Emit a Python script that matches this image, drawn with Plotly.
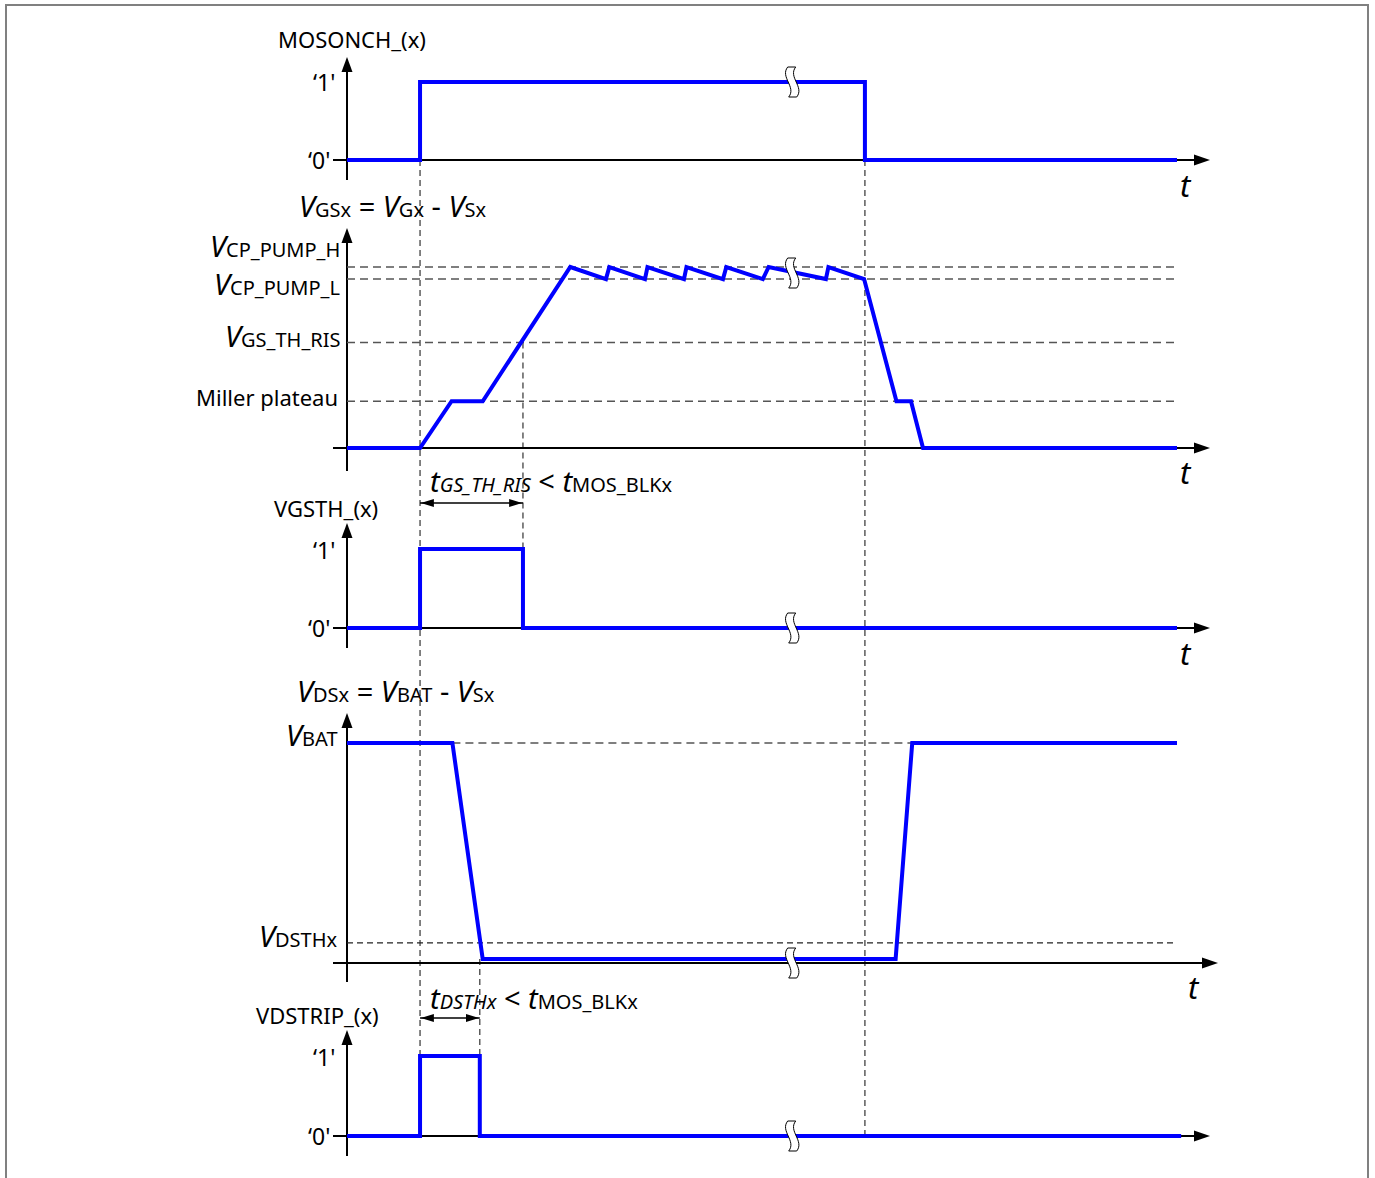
import plotly.graph_objects as go

# ---------------- data ----------------
# time in arbitrary units: 0 = origin of the time axes, 100 = end of the traces
T_ON = 8.8        # MOSONCH rising edge
T_OFF = 62.4      # MOSONCH falling edge
T_GS_TH = 21.2    # V_GS crosses V_GS_TH_RIS
T_DSTH = 16.0     # V_DS drops below V_DSTHx
T_BREAK = 53.7    # time-axis break marker

# gate-source levels (arbitrary volts)
VCP_PUMP_H = 12.0
VCP_PUMP_L = 11.2
VGS_TH_RIS = 7.0
MILLER = 3.1

# drain-source levels
VBAT = 12.0
VDSTHX = 1.1
VDS_ON = 0.22

t_mosonch = [0, 8.8, 8.8, 62.4, 62.4, 100]
mosonch = [0, 0, 1, 1, 0, 0]

t_vgs = [0, 8.8, 12.6, 16.35, 26.9, 31.2, 31.6, 35.9, 36.2, 40.6, 40.9,
         45.3, 45.7, 50.1, 50.8, 57.7, 58.0, 62.3, 66.2, 67.95, 69.4, 100]
vgs = [0, 0, MILLER, MILLER, VCP_PUMP_H,
       VCP_PUMP_L, VCP_PUMP_H, VCP_PUMP_L, VCP_PUMP_H, VCP_PUMP_L, VCP_PUMP_H,
       VCP_PUMP_L, VCP_PUMP_H, VCP_PUMP_L, VCP_PUMP_H, VCP_PUMP_L, VCP_PUMP_H,
       VCP_PUMP_L, MILLER, MILLER, 0, 0]

t_vgsth = [0, 8.8, 8.8, 21.2, 21.2, 100]
vgsth = [0, 0, 1, 1, 0, 0]

t_vds = [0, 12.7, 16.35, 66.1, 68.1, 100]
vds = [VBAT, VBAT, VDS_ON, VDS_ON, VBAT, VBAT]

t_vdstrip = [0, 8.8, 8.8, 16.0, 16.0, 100.5]
vdstrip = [0, 0, 1, 1, 0, 0]

# ---------------- layout geometry ----------------
W, H = 1375, 1178
X0_PX = 347.0
PX_PER_T = 8.3
FONT = "Noto Sans"
BLUE = "#0000ff"

# baseline pixel, pixels per unit, arrow tip pixel, axis bottom pixel, horizontal arrow tip pixel
P = [
    dict(base=160, k=78.0, tip=57, vbot=180, htip=1210),
    dict(base=448, k=181 / 12.0, tip=228, vbot=471, htip=1210),
    dict(base=628, k=79.0, tip=523, vbot=648, htip=1210),
    dict(base=963, k=220 / 12.0, tip=713, vbot=982, htip=1218),
    dict(base=1136, k=80.0, tip=1030, vbot=1156, htip=1210),
]
YREF = ["y", "y2", "y3", "y4", "y5"]


def ypx(i, level):
    return P[i]["base"] - level * P[i]["k"]


def ylev(i, px):
    return (P[i]["base"] - px) / P[i]["k"]


def pyp(px):
    return 1 - px / H


def pxp(px):
    return px / W


def tpx(px):
    return (px - X0_PX) / PX_PER_T


fig = go.Figure()

series = [(t_mosonch, mosonch), (t_vgs, vgs), (t_vgsth, vgsth), (t_vds, vds), (t_vdstrip, vdstrip)]
for i, (tx, ty) in enumerate(series):
    fig.add_trace(go.Scatter(x=tx, y=ty, mode="lines", xaxis="x", yaxis=YREF[i],
                             line=dict(color=BLUE, width=4), hoverinfo="skip", showlegend=False))

layout = dict(
    width=W, height=H, margin=dict(l=0, r=0, t=0, b=0),
    paper_bgcolor="white", plot_bgcolor="rgba(0,0,0,0)", showlegend=False,
    xaxis=dict(domain=[0, 1], range=[tpx(0), tpx(W)], visible=False, fixedrange=True),
)
for i in range(5):
    key = "yaxis" if i == 0 else "yaxis%d" % (i + 1)
    lo, hi = P[i]["vbot"] + 12, P[i]["tip"] - 12
    layout[key] = dict(domain=[pyp(lo), pyp(hi)], range=[ylev(i, lo), ylev(i, hi)],
                       visible=False, anchor="x", fixedrange=True)
fig.update_layout(**layout)

shapes = []
UP = "M0,0 L-5.5,-15 L5.5,-15 Z"
RIGHT = "M0,0 L-16,5.5 L-16,-5.5 Z"
BREAK = "M-5,15 C-13,5 4,-5 -4,-15 L4,-15 C12,-5 -5,5 3,15 Z"

for i in range(5):
    p = P[i]
    yr = YREF[i]
    shapes.append(dict(type="line", xref="x", yref=yr, x0=0, x1=0,
                       y0=ylev(i, p["vbot"]), y1=ylev(i, p["tip"] + 8),
                       line=dict(color="black", width=2), layer="below"))
    shapes.append(dict(type="line", xref="x", yref=yr, x0=tpx(333), x1=tpx(p["htip"] - 8),
                       y0=0, y1=0, line=dict(color="black", width=2), layer="below"))
    shapes.append(dict(type="path", xref="x", yref=yr, xsizemode="pixel", ysizemode="pixel",
                       xanchor=0, yanchor=ylev(i, p["tip"]), path=UP,
                       fillcolor="black", line=dict(width=0)))
    shapes.append(dict(type="path", xref="x", yref=yr, xsizemode="pixel", ysizemode="pixel",
                       xanchor=tpx(p["htip"]), yanchor=0, path=RIGHT,
                       fillcolor="black", line=dict(width=0)))

# level reference lines of V_GSx
for lev in [VCP_PUMP_H, VCP_PUMP_L, VGS_TH_RIS, MILLER]:
    shapes.append(dict(type="line", xref="x", yref="y2", x0=0, x1=100, y0=lev, y1=lev,
                       line=dict(color="#555555", width=1.5, dash="8px,5px"), layer="below"))
# V_DS reference lines
shapes.append(dict(type="line", xref="x", yref="y4", x0=t_vds[1], x1=t_vds[4], y0=VBAT, y1=VBAT,
                   line=dict(color="#555555", width=1.5, dash="8px,5px"), layer="below"))
shapes.append(dict(type="line", xref="x", yref="y4", x0=0, x1=100, y0=VDSTHX, y1=VDSTHX,
                   line=dict(color="#222222", width=1.2, dash="6px,4px"), layer="below"))

# vertical timing guides
VD = dict(color="#333333", width=1.2, dash="6px,4px")
guides = [
    (T_ON, ypx(0, 0), ypx(4, 1)),
    (T_OFF, ypx(0, 0), ypx(4, 0)),
    (T_GS_TH, ypx(1, VGS_TH_RIS), ypx(2, 1)),
    (T_DSTH, ypx(3, VDS_ON), ypx(4, 1)),
]
for tx, a, b in guides:
    shapes.append(dict(type="line", xref="x", yref="paper", x0=tx, x1=tx, y0=pyp(a), y1=pyp(b),
                       line=VD, layer="below"))

# dimension arrows
for t_end, ydim in [(T_GS_TH, 503), (T_DSTH, 1018)]:
    shapes.append(dict(type="line", xref="x", yref="paper", x0=T_ON, x1=t_end,
                       y0=pyp(ydim), y1=pyp(ydim), line=dict(color="black", width=1.3)))
    shapes.append(dict(type="path", xref="x", yref="paper", xsizemode="pixel", ysizemode="pixel",
                       xanchor=T_ON + 0.1, yanchor=pyp(ydim), path="M0,0 L13,4 L13,-4 Z",
                       fillcolor="black", line=dict(width=0)))
    shapes.append(dict(type="path", xref="x", yref="paper", xsizemode="pixel", ysizemode="pixel",
                       xanchor=t_end - 0.1, yanchor=pyp(ydim), path="M0,0 L-13,4 L-13,-4 Z",
                       fillcolor="black", line=dict(width=0)))

# axis break markers
breaks = [(0, 1.0), (1, ylev(1, 273)), (2, 0.0), (3, 0.0), (4, 0.0)]
for i, lev in breaks:
    shapes.append(dict(type="path", xref="x", yref=YREF[i], xsizemode="pixel", ysizemode="pixel",
                       xanchor=T_BREAK, yanchor=lev, path=BREAK,
                       fillcolor="white", line=dict(color="black", width=1)))

# frame
shapes.append(dict(type="rect", xref="paper", yref="paper", x0=pxp(6), x1=pxp(1368),
                   y0=pyp(1200), y1=pyp(5), line=dict(color="#808080", width=2)))

fig.update_layout(shapes=shapes)

SUB = "<span style='font-size:20px'>%s</span>"
SUBI = "<span style='font-size:20px'><i>%s</i></span>"


def V(sub):
    return "<i>V</i>" + SUB % sub


anns = []


def ann(text, x, y, xanchor="left", size=22):
    anns.append(dict(text=text, x=pxp(x), y=pyp(y), xref="paper", yref="paper",
                     xanchor=xanchor, yanchor="middle", showarrow=False,
                     font=dict(family=FONT, size=size, color="black")))


ann("MOSONCH_(x)", 276, 39)
ann("‘1'", 337, 82, "right", 23)
ann("‘0'", 332, 160, "right", 23)
ann("<i>t</i>", 1186, 185, "center", 31)

ann(V("GSx") + " = " + V("Gx") + " - " + V("Sx"), 297, 206, "left", 29)
ann(V("CP_PUMP_H"), 342, 245, "right", 29)
ann(V("CP_PUMP_L"), 342, 283, "right", 29)
ann(V("GS_TH_RIS"), 342, 335, "right", 29)
ann("Miller plateau", 340, 397, "right", 22)
ann("<i>t</i>", 1186, 472, "center", 31)
ann("<i>t</i>" + SUBI % "GS_TH_RIS" + " < <i>t</i>" + SUB % "MOS_BLKx", 428, 480, "left", 29)

ann("VGSTH_(x)", 272, 508)
ann("‘1'", 337, 550, "right", 23)
ann("‘0'", 332, 628, "right", 23)
ann("<i>t</i>", 1186, 653, "center", 31)

ann(V("DSx") + " = " + V("BAT") + " - " + V("Sx"), 295, 690, "left", 29)
ann(V("BAT"), 340, 735, "right", 29)
ann(V("DSTHx"), 340, 935, "right", 29)
ann("<i>t</i>", 1194, 987, "center", 31)
ann("<i>t</i>" + SUBI % "DSTHx" + " < <i>t</i>" + SUB % "MOS_BLKx", 428, 997, "left", 29)

ann("VDSTRIP_(x)", 254, 1015)
ann("‘1'", 337, 1057, "right", 23)
ann("‘0'", 332, 1136, "right", 23)

fig.update_layout(annotations=anns)

fig.write_html("out.html", config={"displayModeBar": False},
               post_script="document.body.style.margin='0';document.body.style.overflow='hidden';")
